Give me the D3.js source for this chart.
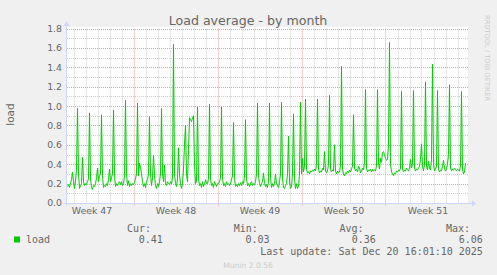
<!DOCTYPE html>
<html><head><meta charset="utf-8">
<script src="https://cdn.jsdelivr.net/npm/d3@7/dist/d3.min.js"></script>
<style>body{margin:0;background:#F0F0F0;overflow:hidden}</style>
</head><body>
<svg id="c" width="497" height="275"></svg>
<script>
// time in hours relative to the start of "Week 48" grid line
const hours = [
-132,-130,-128,-126,-124,-122,-120,-118,-116,-114,-112,-110,-108,-106,-104,-102,-100,-98,-96,-94,-92,-90,-88,-86,-84,-82,-80,-78,-76,-74,-72,-70,-68,-66,-64,-62,-60,-58,-56,-54,-52,-50,-48,-46,-44,-42,-40,-38,-36,-34,-32,-30,-28,-26,-24,-22,-20,-18,-16,-14,-12,-10,-8,-6,-4,-2,0,
2,4,6,8,10,12,14,16,18,20,22,24,26,28,30,32,34,36,38,40,42,44,46,48,50,52,54,56,58,60,62,64,66,68,70,72,74,76,78,80,82,84,86,88,90,92,94,96,98,100,102,104,106,108,110,112,114,116,118,120,122,124,126,128,130,132,134,136,138,140,142,144,146,148,150,152,154,156,158,160,162,164,166,168,
170,172,174,176,178,180,182,184,186,188,190,192,194,196,198,200,202,204,206,208,210,212,214,216,218,220,222,224,226,228,230,232,234,236,238,240,242,244,246,248,250,252,254,256,258,260,262,264,266,268,270,272,274,276,278,280,282,284,286,288,290,292,294,296,298,300,302,304,306,308,310,312,314,316,318,320,322,324,326,328,330,332,334,336,338,340,342,344,
346,348,350,352,354,356,358,360,362,364,366,368,370,372,374,376,378,380,382,384,386,388,390,392,394,396,398,400,402,404,406,408,410,412,414,416,418,420,422,424,426,428,430,432,434,436,438,440,442,444,446,448,450,452,454,456,458,460,462,464,466,468,470,472,474,476,478,480,482,484,486,488,490,492,494,496,498,500,502,504,506,508,510,512,514,516,518,520,
522,524,526,528,530,532,534,536,538,540,542,544,546,548,550,552,554,556,558,560,562,564,566,568,570,572,574,576,578,580,582,584,586,588,590,592,594,596,598,600,602,604,606,608,610,612,614,616,618,620,622,624,626,628,630,632,634,636,638,640,642,644,646,648,650,652,654,656,658,660,662,664
];
const load = [
0.17,0.19,0.16,0.21,0.24,0.32,0.22,0.15,0.22,0.35,0.98,0.30,0.15,0.18,0.20,0.47,0.22,0.18,0.20,0.19,0.22,0.25,0.93,0.25,0.16,0.14,0.18,0.17,0.20,0.26,0.36,0.22,0.28,0.30,0.91,0.28,0.16,0.18,0.17,0.20,0.18,0.24,0.35,0.22,0.26,0.30,0.96,0.28,0.17,0.20,0.18,0.20,0.22,0.19,0.22,0.18,0.20,0.28,1.06,0.30,0.18,0.23,0.17,0.20,0.18,0.20,0.19,
0.21,0.25,0.30,1.03,0.28,0.41,0.37,0.30,0.22,0.17,0.20,0.16,0.22,0.24,0.30,0.89,0.30,0.18,0.26,0.49,0.28,0.18,0.15,0.20,0.17,0.22,0.30,0.975,0.30,0.22,0.39,0.20,0.18,0.22,0.20,0.19,0.22,0.20,0.26,1.64,0.30,0.20,0.17,0.25,0.57,0.30,0.20,0.15,0.20,0.35,0.60,0.80,0.30,0.22,0.55,0.88,0.86,0.84,0.88,0.90,0.40,0.20,0.22,0.99,0.25,0.18,0.20,0.16,0.22,0.17,0.20,0.24,0.20,0.20,0.25,1.02,0.25,0.18,0.20,0.16,0.22,0.20,0.17,0.20,
0.20,0.22,0.26,0.99,0.26,0.18,0.20,0.17,0.22,0.19,0.20,0.18,0.20,0.24,0.28,0.83,0.25,0.17,0.19,0.17,0.20,0.18,0.21,0.18,0.22,0.20,0.28,0.86,0.25,0.18,0.20,0.17,0.20,0.22,0.18,0.20,0.19,0.22,0.30,1.03,0.28,0.20,0.17,0.20,0.22,0.31,0.20,0.17,0.19,0.16,0.22,1.03,0.26,0.16,0.20,0.17,0.20,0.30,0.20,0.18,0.16,0.22,0.30,1.04,0.25,0.16,0.15,0.18,0.20,0.30,0.69,0.22,0.15,0.17,0.30,0.92,0.25,0.15,0.20,0.15,0.17,0.30,1.04,0.30,0.46,0.32,0.38,1.07,
0.35,0.31,0.32,0.30,0.33,0.32,0.34,0.33,0.35,0.33,0.40,1.07,0.35,0.31,0.33,0.32,0.36,0.34,0.53,0.33,0.31,0.33,0.40,1.11,0.35,0.32,0.34,0.33,0.60,0.33,0.30,0.33,0.31,0.32,0.38,1.41,0.35,0.30,0.28,0.31,0.30,0.33,0.31,0.34,0.32,0.35,0.38,0.91,0.36,0.33,0.35,0.32,0.38,0.36,0.31,0.33,0.36,0.34,0.42,1.17,0.36,0.32,0.34,0.33,0.35,0.32,0.35,0.33,0.34,0.33,0.38,1.17,0.40,0.35,0.46,0.42,0.52,0.53,0.50,0.46,0.44,0.45,0.60,1.655,0.40,0.32,0.30,0.28,
0.31,0.30,0.33,0.32,0.34,0.33,0.36,1.15,0.35,0.32,0.34,0.33,0.36,0.34,0.33,0.36,0.45,0.36,0.40,1.16,0.36,0.33,0.35,0.34,0.36,0.38,0.45,0.61,0.38,0.33,0.40,1.25,0.38,0.34,0.43,0.36,0.34,0.45,1.43,0.40,0.33,0.35,0.38,1.16,0.35,0.32,0.34,0.33,0.38,0.44,0.36,0.33,0.35,0.40,0.50,1.22,0.36,0.33,0.35,0.34,0.36,0.34,0.33,0.35,0.34,0.33,0.38,1.15,0.35,0.30,0.32,0.41
];
const yTicks = [0.0,0.2,0.4,0.6,0.8,1.0,1.2,1.4,1.6,1.8];
const weekLabels = ["Week 47","Week 48","Week 49","Week 50","Week 51"];
const weekCenters = [-84,84,252,420,588];
const weekStarts = [0,168,336,504];
const legendHeads = ["Cur:","Min:","Avg:","Max:"];
const legendVals = ["0.41","0.03","0.36","6.06"];
const title = "Load average - by month";
const lastUpdate = "Last update: Sat Dec 20 16:01:10 2025";

const svg = d3.select("#c");
const sans = "DejaVu Sans, Verdana, sans-serif";
const mono = "DejaVu Sans Mono, monospace";
const fontCol = "#666666";

const x = d3.scaleLinear().domain([-133, 669]).range([67, 468]);
const y = d3.scaleLinear().domain([0, 1.8]).range([203, 28.5]);

svg.append("rect").attr("width",497).attr("height",275).attr("fill","#F0F0F0");
svg.append("rect").attr("x",x.range()[0]).attr("y",y.range()[1]-1.5)
  .attr("width",x.range()[1]-x.range()[0]).attr("height",y.range()[0]-y.range()[1]+1.5)
  .attr("fill","#FFFFFF");

const g = svg.append("g");
// minor grid
const minorH = d3.range(1,18).filter(i=>i%2).map(i=>i/10);
g.selectAll(".mh").data(minorH).enter().append("line")
  .attr("x1",x.range()[0]).attr("x2",x.range()[1])
  .attr("y1",d=>Math.round(y(d))+0.5).attr("y2",d=>Math.round(y(d))+0.5)
  .attr("stroke","#CFCFCF").attr("stroke-dasharray","1,1");
const minorV = d3.range(-120, 669, 24).filter(h=>h%168!==0);
g.selectAll(".mv").data(minorV).enter().append("line")
  .attr("x1",d=>Math.round(x(d))+0.5).attr("x2",d=>Math.round(x(d))+0.5)
  .attr("y1",y.range()[1]).attr("y2",y.range()[0])
  .attr("stroke","#CFCFCF").attr("stroke-dasharray","1,1");
// major grid
g.selectAll(".Mh").data(yTicks.slice(1)).enter().append("line")
  .attr("x1",x.range()[0]).attr("x2",x.range()[1])
  .attr("y1",d=>Math.round(y(d))+0.5).attr("y2",d=>Math.round(y(d))+0.5)
  .attr("stroke","#EBA0A0").attr("stroke-dasharray","1,1");
g.selectAll(".Mv").data(weekStarts).enter().append("line")
  .attr("x1",d=>Math.round(x(d))+0.5).attr("x2",d=>Math.round(x(d))+0.5)
  .attr("y1",y.range()[1]).attr("y2",y.range()[0]+3)
  .attr("stroke","#EBA0A0").attr("stroke-dasharray","1,1");

// data line
const pts = hours.map((h,i)=>[h, load[i]]);
svg.append("path").datum(pts)
  .attr("d", d3.line().x(d=>x(d[0])).y(d=>y(d[1])))
  .attr("fill","none").attr("stroke","#00CC00").attr("stroke-width",1);

// axes lines + arrows
const axCol = "#CFD6F8";
svg.append("line").attr("x1",64).attr("x2",472).attr("y1",203.5).attr("y2",203.5).attr("stroke",axCol);
svg.append("line").attr("x1",66.5).attr("x2",66.5).attr("y1",206).attr("y2",23).attr("stroke",axCol);
svg.append("path").attr("d","M472,200.5 L476,203.5 L472,206.5 Z").attr("fill",axCol);
svg.append("path").attr("d","M63.5,26 L66.5,21 L69.5,26 Z").attr("fill",axCol);

// y axis labels
const yAxis = svg.append("g").attr("transform","translate(62,0)")
  .call(d3.axisLeft(y).tickValues(yTicks).tickSize(0).tickPadding(0).tickFormat(d3.format(".1f")));
yAxis.select(".domain").remove();
yAxis.selectAll("text").attr("font-family",sans).attr("font-size","9.3px").attr("fill",fontCol);

// x axis labels
const xAxis = svg.append("g").attr("transform","translate(0,207)")
  .call(d3.axisBottom(x).tickValues(weekCenters).tickSize(0).tickPadding(0).tickFormat((d,i)=>weekLabels[i]));
xAxis.select(".domain").remove();
xAxis.selectAll("text").attr("font-family",sans).attr("font-size","9.4px").attr("fill",fontCol);

// title
svg.append("text").attr("x",248).attr("y",24.5).attr("text-anchor","middle")
  .attr("font-family",sans).attr("font-size","12.6px").attr("fill",fontCol).text(title);
// y label
svg.append("text").attr("transform","translate(13.5,114.5) rotate(-90)").attr("text-anchor","middle")
  .attr("font-family",sans).attr("font-size","10.5px").attr("fill",fontCol).text("load");
// watermark
svg.append("text").attr("transform","translate(484.5,15) rotate(90)").attr("text-anchor","start")
  .attr("font-family",sans).attr("font-size","6.7px").attr("fill","#CCCCCC").text("RRDTOOL / TOBI OETIKER");

// legend
const headX = [127, 233.7, 339.5, 446];
const valEnd = [162.9, 269.5, 375.9, 482.9];
svg.selectAll(".lh").data(legendHeads).enter().append("text")
  .attr("x",(d,i)=>headX[i]).attr("y",232).attr("font-family",mono).attr("font-size","10px")
  .attr("fill",fontCol).text(d=>d);
svg.selectAll(".lv").data(legendVals).enter().append("text")
  .attr("x",(d,i)=>valEnd[i]).attr("y",243).attr("text-anchor","end").attr("font-family",mono).attr("font-size","10px")
  .attr("fill",fontCol).text(d=>d);
svg.append("rect").attr("x",14).attr("y",236.5).attr("width",6).attr("height",6).attr("fill","#00CC00");
svg.append("text").attr("x",26).attr("y",243).attr("font-family",mono).attr("font-size","10px").attr("fill",fontCol).text("load");
svg.append("text").attr("x",482.9).attr("y",254.7).attr("text-anchor","end").attr("font-family",mono).attr("font-size","10px").attr("fill",fontCol).text(lastUpdate);
svg.append("text").attr("x",248).attr("y",267.5).attr("text-anchor","middle").attr("font-family",sans).attr("font-size","7.6px").attr("fill","#CCCCCC").text("Munin 2.0.56");
</script>
</body></html>
